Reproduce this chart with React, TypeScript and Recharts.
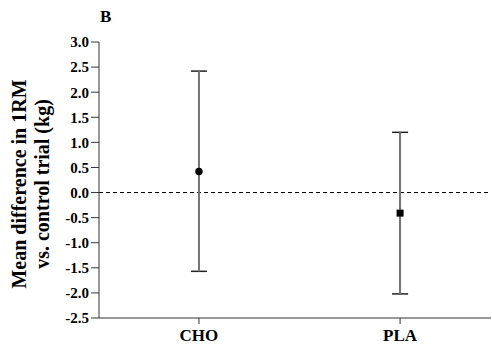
import {
  ComposedChart, Scatter, ErrorBar, XAxis, YAxis, ReferenceLine,
} from "recharts";

const CATEGORIES = ["CHO", "PLA"];
const MEANS = [0.42, -0.41];
const LOWER = [-1.57, -2.02];
const UPPER = [2.42, 1.2];
const Y_TICKS = [-2.5, -2.0, -1.5, -1.0, -0.5, 0.0, 0.5, 1.0, 1.5, 2.0, 2.5, 3.0];

const rows = CATEGORIES.map((name, i) => ({
  x: i,
  name,
  mean: MEANS[i],
  err: [MEANS[i] - LOWER[i], UPPER[i] - MEANS[i]],
}));

const FONT = "'Liberation Serif', 'Times New Roman', serif";

const YLabel = ({ viewBox }: any) => {
  const cy = viewBox.y + viewBox.height / 2 + 4;
  return (
    <text
      transform={`translate(0, ${cy}) rotate(-90)`}
      textAnchor="middle"
      fontFamily={FONT}
      fontWeight="bold"
      fontSize={20}
      fill="#000"
    >
      <tspan x={0} y={26}>Mean difference in 1RM</tspan>
      <tspan x={0} y={49}>vs. control trial (kg)</tspan>
    </text>
  );
};

const Dot = ({ cx, cy }: any) => <circle cx={cx} cy={cy} r={3.7} fill="#000" />;
const Sq = ({ cx, cy }: any) => <rect x={cx - 3.5} y={cy - 3.5} width={7} height={7} fill="#000" />;

export default function App() {
  return (
    <div style={{ position: "absolute", left: 0, top: 0, width: 492, height: 344, background: "#fff" }}>
      <span
        style={{
          position: "absolute", left: 100, top: 7, fontFamily: FONT,
          fontWeight: "bold", fontSize: 17, color: "#000",
        }}
      >
        B
      </span>
      <ComposedChart width={492} height={344} margin={{ top: 42, right: 1, bottom: 0, left: 0 }}>
        <XAxis
          type="number"
          dataKey="x"
          domain={[-0.497, 1.452]}
          ticks={[0, 1]}
          tickFormatter={(v: number) => CATEGORIES[v]}
          height={26}
          tickSize={6}
          tickMargin={5}
          stroke="#333"
          tick={{ fill: "#000", fontFamily: FONT, fontWeight: "bold", fontSize: 17 }}
          allowDataOverflow
        />
        <YAxis
          type="number"
          domain={[-2.5, 3]}
          ticks={Y_TICKS}
          interval={0}
          tickFormatter={(v: number) => v.toFixed(1)}
          width={99}
          tickSize={8}
          tickMargin={2}
          stroke="#333"
          tick={{ fill: "#000", fontFamily: FONT, fontWeight: "bold", fontSize: 15 }}
          label={<YLabel />}
        />
        <ReferenceLine y={0} stroke="#000" strokeDasharray="4 3" />
        {/* caps first (dark), then the grey stem over them */}
        <Scatter data={[rows[0]]} dataKey="mean" shape={() => null} isAnimationActive={false}>
          <ErrorBar dataKey="err" direction="y" stroke="#222" width={8} strokeWidth={1.5} isAnimationActive={false} />
        </Scatter>
        <Scatter data={[rows[1]]} dataKey="mean" shape={() => null} isAnimationActive={false}>
          <ErrorBar dataKey="err" direction="y" stroke="#222" width={8} strokeWidth={1.5} isAnimationActive={false} />
        </Scatter>
        <Scatter data={[rows[0]]} dataKey="mean" shape={<Dot />} isAnimationActive={false}>
          <ErrorBar dataKey="err" direction="y" stroke="#777" width={0} strokeWidth={2} isAnimationActive={false} />
        </Scatter>
        <Scatter data={[rows[1]]} dataKey="mean" shape={<Sq />} isAnimationActive={false}>
          <ErrorBar dataKey="err" direction="y" stroke="#777" width={0} strokeWidth={2} isAnimationActive={false} />
        </Scatter>
      </ComposedChart>
    </div>
  );
}
